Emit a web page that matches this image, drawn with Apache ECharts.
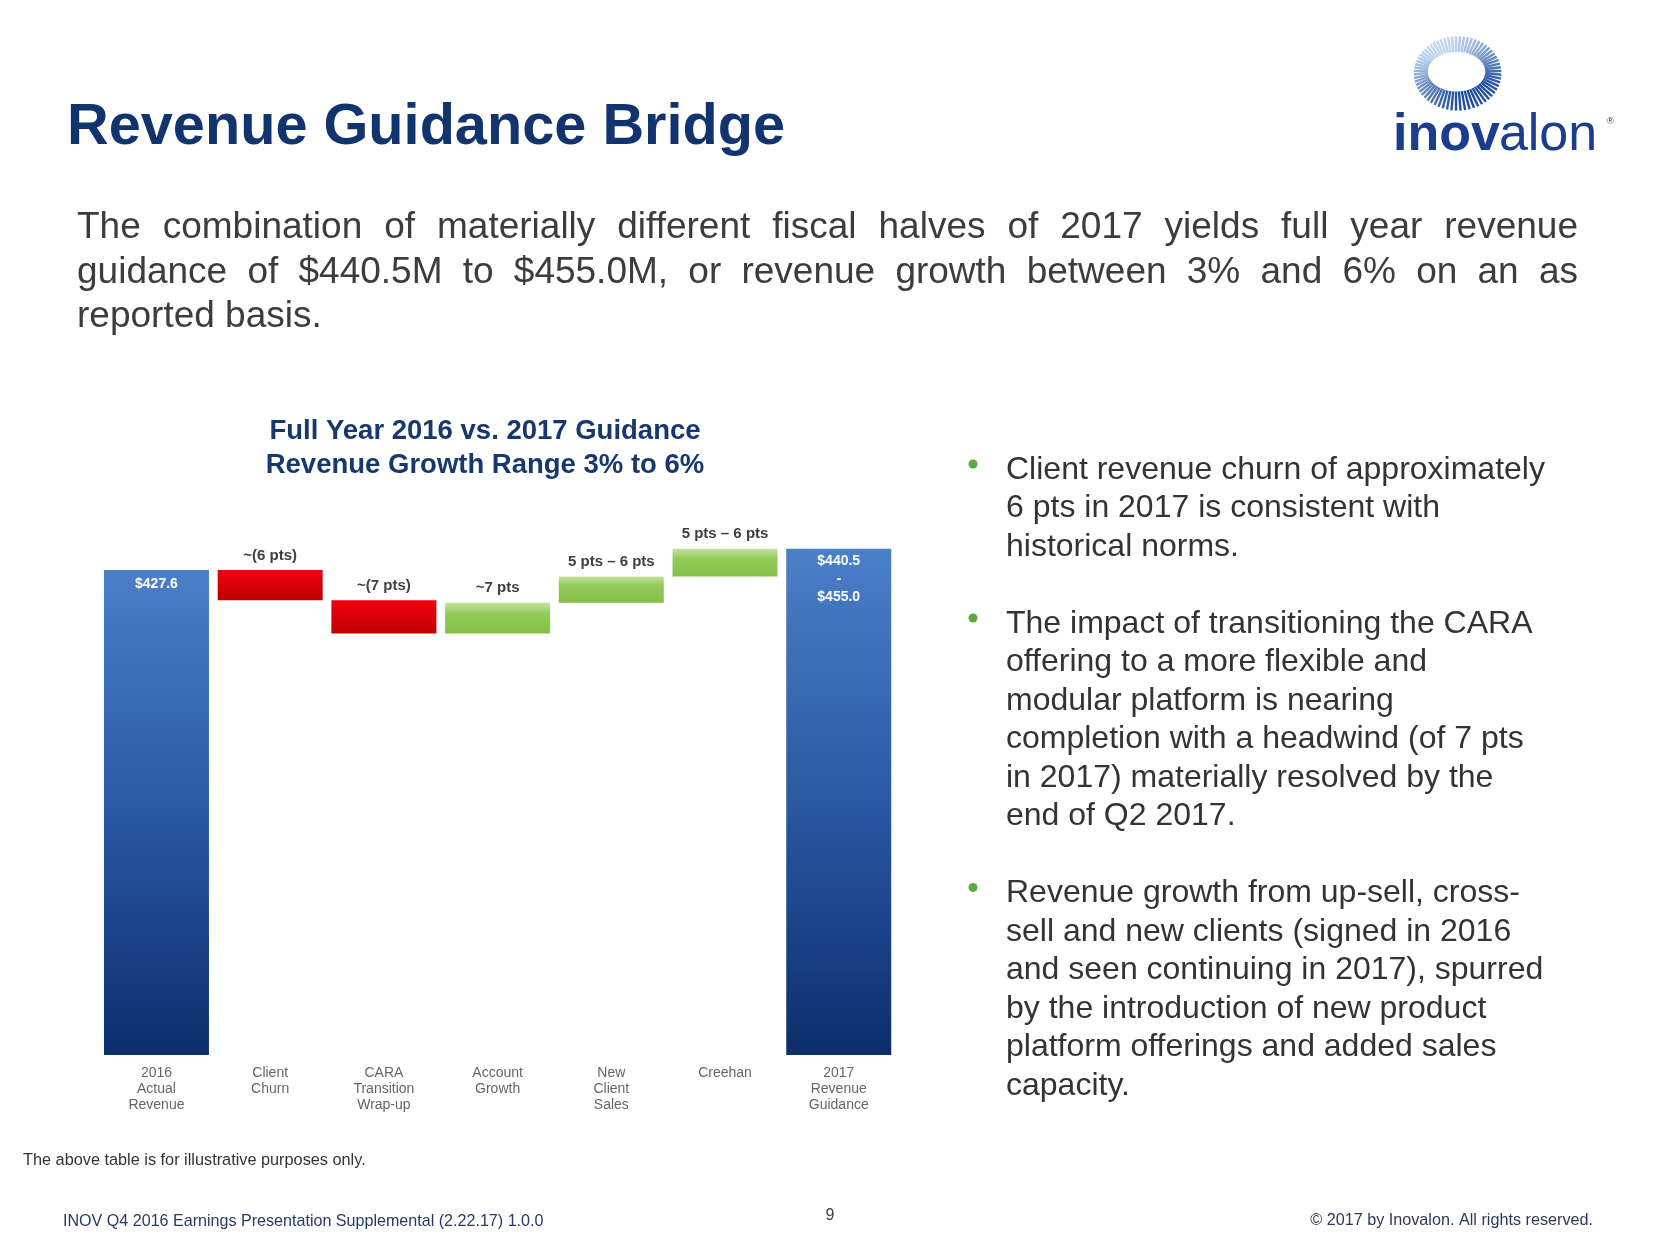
<!DOCTYPE html>
<html><head><meta charset="utf-8">
<script src="https://cdn.jsdelivr.net/npm/echarts@6/dist/echarts.min.js"></script>
<style>html,body{margin:0;padding:0;background:#fff}#c{width:1660px;height:1246px}</style>
</head><body><div id="c"></div>
<script>
// ---------- data ----------
const categories = ['2016\nActual\nRevenue', 'Client\nChurn', 'CARA\nTransition\nWrap-up', 'Account\nGrowth', 'New\nClient\nSales', 'Creehan', '2017\nRevenue\nGuidance'];
const startValue = 427.6;
const changeValues = [-26.5, -29.3, 27.0, 23.2, 24.4];
const endValue = 446.5;
const changeLabels = ['~(6 pts)', '~(7 pts)', '~7 pts', '5 pts – 6 pts', '5 pts – 6 pts'];
const startLabel = '$427.6';
const endLabel = '$440.5\n-\n$455.0';
const titleText = 'Revenue Guidance Bridge';
const chartTitleLines = ['Full Year 2016 vs. 2017 Guidance', 'Revenue Growth Range 3% to 6%'];
const paragraphLines = [
  'The combination of materially different fiscal halves of 2017 yields full year revenue',
  'guidance of $440.5M to $455.0M, or revenue growth between 3% and 6% on an as',
  'reported basis.'
];
const bulletLines = [
  ['Client revenue churn of approximately', '6 pts in 2017 is consistent with', 'historical norms.'],
  ['The impact of transitioning the CARA', 'offering to a more flexible and', 'modular platform is nearing', 'completion with a headwind (of 7 pts', 'in 2017) materially resolved by the', 'end of Q2 2017.'],
  ['Revenue growth from up-sell, cross-', 'sell and new clients (signed in 2016', 'and seen continuing in 2017), spurred', 'by the introduction of new product', 'platform offerings and added sales', 'capacity.']
];
const footnote = 'The above table is for illustrative purposes only.';
const footerLeft = 'INOV Q4 2016 Earnings Presentation Supplemental (2.22.17) 1.0.0';
const pageNumber = '9';
const footerRight = '© 2017 by Inovalon. All rights reserved.';

// ---------- styles ----------
const FONT = '"Liberation Sans", Arial, Helvetica, sans-serif';
const NAVY = '#12346e';
const blueGrad = new echarts.graphic.LinearGradient(0, 0, 0, 1, [
  {offset: 0, color: '#4b7fc8'}, {offset: 0.5, color: '#2a58a3'}, {offset: 1, color: '#0c2d6b'}]);
const redGrad = new echarts.graphic.LinearGradient(0, 0, 0, 1, [
  {offset: 0, color: '#f2000f'}, {offset: 1, color: '#bd0000'}]);
const greenGrad = new echarts.graphic.LinearGradient(0, 0, 0, 1, [
  {offset: 0, color: '#c6e3a3'}, {offset: 0.35, color: '#93ca58'}, {offset: 1, color: '#85bf49'}]);

// ---------- waterfall build ----------
const baseData = [0];
const visData = [{value: startValue, itemStyle: {color: blueGrad},
  label: {show: true, position: 'insideTop', distance: 5, formatter: startLabel, color: '#fff', fontSize: 14, fontWeight: 'bold', lineHeight: 18, fontFamily: FONT}}];
let running = startValue;
changeValues.forEach((d, i) => {
  const lo = Math.min(running, running + d);
  baseData.push(lo);
  visData.push({value: Math.abs(d), itemStyle: {color: d < 0 ? redGrad : greenGrad},
    label: {show: true, position: 'top', distance: 7, formatter: changeLabels[i], color: '#404040', fontSize: 15, fontWeight: 'bold', fontFamily: FONT}});
  running += d;
});
baseData.push(0);
visData.push({value: endValue, itemStyle: {color: blueGrad},
  label: {show: true, position: 'insideTop', distance: 3, formatter: endLabel, color: '#fff', fontSize: 14, fontWeight: 'bold', lineHeight: 18, fontFamily: FONT}});

// ---------- text helpers ----------
const mctx = document.createElement('canvas').getContext('2d');
function measure(t, font) { mctx.font = font; return mctx.measureText(t).width; }
const graphics = [];
function txt(text, x, y, font, fill, align, valign, extra) {
  graphics.push(Object.assign({type: 'text', silent: true, style: {text: text, x: x, y: y, font: font, fill: fill,
    textAlign: align || 'left', textVerticalAlign: valign || 'middle', align: align || 'left', verticalAlign: valign || 'middle'}}, extra || {}));
}

// title
txt(titleText, 67, 128, 'bold 57.7px ' + FONT, NAVY);

// justified paragraph
const pFont = '37px ' + FONT;
const pLeft = 77, pRight = 1578, pMid = [228, 272.5, 317];
paragraphLines.forEach((line, li) => {
  const words = line.split(' ');
  if (li < paragraphLines.length - 1) {
    const widths = words.map(w => measure(w, pFont));
    const total = widths.reduce((a, b) => a + b, 0);
    const gap = (pRight - pLeft - total) / (words.length - 1);
    let x = pLeft;
    words.forEach((w, wi) => { txt(w, x, pMid[li], pFont, '#3c3c3c'); x += widths[wi] + gap; });
  } else {
    txt(line, pLeft, pMid[li], pFont, '#3c3c3c');
  }
});

// chart title
chartTitleLines.forEach((l, i) => txt(l, 485, 431 + i * 34, 'bold 27.5px ' + FONT, '#17386f', 'center'));

// bullets
const bFont = '32px ' + FONT;
const bLH = 38.5;
let lineIdx = 0;
bulletLines.forEach(lines => {
  const firstMid = 470 + lineIdx * bLH;
  graphics.push({type: 'circle', silent: true, shape: {cx: 973, cy: firstMid - 6, r: 4.5}, style: {fill: '#5aab3c'}});
  lines.forEach((l, k) => txt(l, 1006, firstMid + k * bLH, bFont, '#333333'));
  lineIdx += lines.length + 1;
});

// logo rays
const lcx = 1456, lcy = 71;
const N = 64;
function lerpColor(a, b, t) {
  const pa = [1, 3, 5].map(i => parseInt(a.substr(i, 2), 16));
  const pb = [1, 3, 5].map(i => parseInt(b.substr(i, 2), 16));
  return 'rgb(' + pa.map((v, i) => Math.round(v + (pb[i] - v) * t)).join(',') + ')';
}
for (let k = 0; k < N; k++) {
  const th = (k / N) * Math.PI * 2;
  const dark = (1 + Math.cos(th - Math.PI / 3)) / 2;
  const rin = 0.95 + 0.08 * dark;
  const rout = 0.86 + 0.14 * dark;
  graphics.push({type: 'line', silent: true,
    shape: {x1: lcx + 29 * rin * Math.cos(th), y1: lcy + 20 * rin * Math.sin(th),
            x2: lcx + 47 * rout * Math.cos(th), y2: lcy + 40 * rout * Math.sin(th)},
    style: {stroke: lerpColor('#c3d6f0', '#1c4c9a', dark), lineWidth: 2.4}});
}
// logo wordmark
const lf1 = '900 52px ' + FONT, lf2 = '52px ' + FONT;
txt('inov', 1393, 136, lf1, '#1b3d8f');
txt('alon', 1393 + measure('inov', lf1) - 1, 136, lf2, '#1b3d8f');
txt('®', 1607, 122, '9px ' + FONT, '#1b3d8f');

// footers
txt(footnote, 23, 1161, '16.3px ' + FONT, '#333333');
txt(footerLeft, 63, 1222, '16.1px ' + FONT, '#243a6b');
txt(pageNumber, 830, 1216, '16px ' + FONT, '#404040', 'center');
txt(footerRight, 1593, 1221, '16.2px ' + FONT, '#2b3a5a', 'right');

// ---------- chart ----------
const chart = echarts.init(document.getElementById('c'), null, {renderer: 'canvas'});
chart.setOption({
  backgroundColor: '#ffffff',
  animation: false,
  grid: {left: 99.6, right: 764.4, top: 488, bottom: 191, containLabel: false},
  xAxis: {type: 'category', data: categories,
    axisLine: {show: false}, axisTick: {show: false},
    axisLabel: {interval: 0, color: '#666666', fontSize: 14, lineHeight: 16, margin: 10, fontFamily: FONT, verticalAlign: 'top'}},
  yAxis: {type: 'value', min: 0, max: 500, show: false, splitLine: {show: false}},
  series: [
    {type: 'bar', stack: 'w', data: baseData, barWidth: 105, itemStyle: {color: 'transparent'}, silent: true},
    {type: 'bar', stack: 'w', data: visData, barWidth: 105}
  ],
  graphic: graphics
});
</script></body></html>
